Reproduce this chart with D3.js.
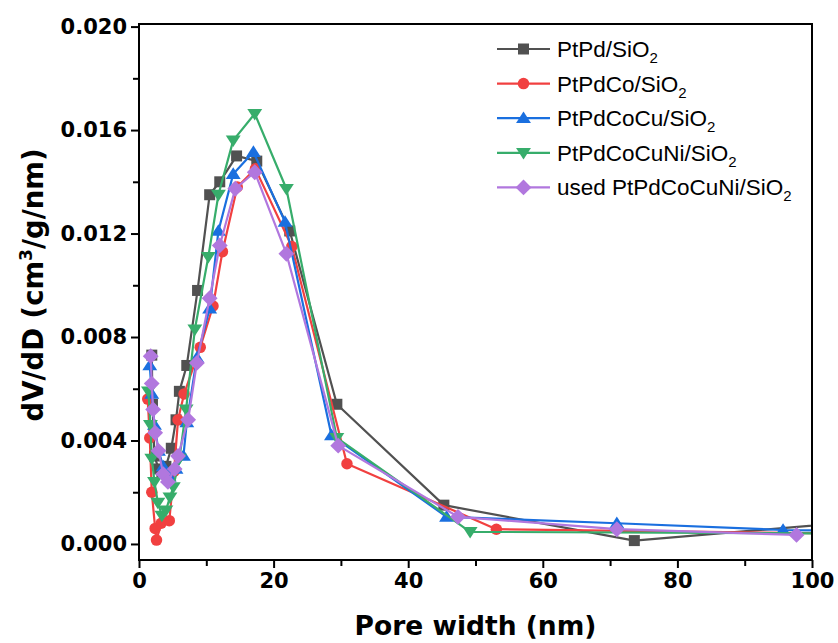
<!DOCTYPE html>
<html><head><meta charset="utf-8">
<script src="https://cdn.jsdelivr.net/npm/d3@7"></script>
<style>body{margin:0;background:#fff}</style>
</head><body>
<svg id="c" width="838" height="643"></svg>
<script>
// ---- data ----
const seriesNames = ["PtPd/SiO", "PtPdCo/SiO", "PtPdCoCu/SiO", "PtPdCoCuNi/SiO", "used PtPdCoCuNi/SiO"];
const xPtPd = [1.9, 2.0, 2.3, 2.9, 3.4, 4.0, 4.8, 5.5, 6.0, 7.1, 8.7, 10.5, 12.0, 14.5, 17.5, 22.4, 29.4, 45.3, 73.6, 110];
const yPtPd = [0.0073, 0.0054, 0.0034, 0.0029, 0.0028, 0.0030, 0.0037, 0.0048, 0.0059, 0.0069, 0.0098, 0.0135, 0.0140, 0.0150, 0.0148, 0.0121, 0.0054, 0.0015, 0.00013, 0.00093];
const xPtPdCo = [1.3, 1.6, 1.9, 2.4, 2.6, 3.3, 4.5, 5.2, 5.8, 6.7, 9.1, 11.0, 12.4, 14.6, 17.3, 22.7, 30.9, 53.1, 105];
const yPtPdCo = [0.0056, 0.0041, 0.0020, 0.0006, 0.00015, 0.0008, 0.0009, 0.0028, 0.0048, 0.0058, 0.0076, 0.0092, 0.0113, 0.0138, 0.0145, 0.0115, 0.0031, 0.00057, 0.0004];
const xPtPdCoCu = [1.6, 1.9, 2.3, 2.9, 3.6, 4.5, 5.5, 6.6, 7.1, 8.6, 10.5, 11.8, 14.0, 17.0, 21.7, 28.6, 45.7, 71.0, 95.7, 105];
const yPtPdCoCu = [0.0069, 0.0058, 0.0046, 0.0036, 0.0030, 0.0026, 0.0029, 0.0034, 0.0047, 0.0072, 0.0091, 0.0121, 0.0143, 0.01515, 0.01245, 0.0042, 0.00105, 0.0008, 0.00054, 0.0005];
const xPtPdCoCuNi = [1.4, 1.7, 1.9, 2.3, 2.8, 3.4, 4.0, 4.6, 5.1, 6.0, 7.0, 8.3, 10.3, 11.8, 14.0, 17.2, 21.9, 29.4, 49.2, 105];
const yPtPdCoCuNi = [0.0059, 0.0046, 0.0033, 0.0024, 0.0016, 0.0011, 0.0013, 0.0018, 0.0022, 0.0033, 0.0052, 0.0083, 0.0111, 0.0135, 0.0156, 0.01663, 0.01373, 0.0041, 0.00047, 0.0004];
const xUsed = [1.74, 1.89, 2.1, 2.4, 2.9, 3.6, 4.3, 5.3, 5.8, 7.3, 8.6, 10.5, 12.0, 14.3, 17.2, 21.9, 29.6, 47.4, 71.0, 97.7];
const yUsed = [0.00726, 0.0062, 0.0052, 0.0043, 0.0036, 0.0027, 0.0024, 0.0029, 0.0034, 0.0048, 0.0070, 0.0095, 0.01154, 0.01373, 0.01437, 0.01122, 0.0038, 0.00105, 0.00057, 0.00035];
const xTicks = [0, 20, 40, 60, 80, 100];
const yTicks = [0.000, 0.004, 0.008, 0.012, 0.016, 0.020];
const colors = ["#515151", "#F14040", "#1A6FDF", "#37AD6B", "#B177DE"];
const shapes = ["square", "circle", "triUp", "triDown", "diamond"];

const xs = [xPtPd, xPtPdCo, xPtPdCoCu, xPtPdCoCuNi, xUsed];
const ys = [yPtPd, yPtPdCo, yPtPdCoCu, yPtPdCoCuNi, yUsed];

// ---- layout ----
const L = 139, R = 812, T = 24, B = 560;
const svg = d3.select("#c");
const x = d3.scaleLinear().domain([0, 100]).range([L, R]);
const y = d3.scaleLinear().domain([-0.00062, 0.0201]).range([B, T]);

svg.append("rect").attr("width", 838).attr("height", 643).attr("fill", "#fff");
svg.append("clipPath").attr("id", "clip").append("rect")
  .attr("x", L).attr("y", T).attr("width", R - L).attr("height", B - T);

function markerPath(shape, s) {
  const p = d3.path();
  if (shape === "square") { p.rect(-s/2, -s/2, s, s); }
  else if (shape === "circle") { p.arc(0, 0, s/2, 0, 2*Math.PI); }
  else if (shape === "triUp") { const h = s*0.9; p.moveTo(0, -h*0.62); p.lineTo(s*0.62, h*0.45); p.lineTo(-s*0.62, h*0.45); p.closePath(); }
  else if (shape === "triDown") { const h = s*0.9; p.moveTo(0, h*0.62); p.lineTo(s*0.62, -h*0.45); p.lineTo(-s*0.62, -h*0.45); p.closePath(); }
  else if (shape === "diamond") { const r = s*0.66; p.moveTo(0, -r); p.lineTo(r, 0); p.lineTo(0, r); p.lineTo(-r, 0); p.closePath(); }
  return p.toString();
}
const msize = [11, 11.5, 12, 12, 12];

const plot = svg.append("g").attr("clip-path", "url(#clip)");
const line = d3.line().x(d => x(d[0])).y(d => y(d[1]));
xs.forEach((xv, i) => {
  const data = xv.map((v, j) => [v, ys[i][j]]);
  const g = plot.append("g");
  g.append("path").datum(data).attr("d", line).attr("fill", "none")
    .attr("stroke", colors[i]).attr("stroke-width", 2.2).attr("stroke-linejoin", "round");
  g.selectAll("path.m").data(data).enter().append("path").attr("class", "m")
    .attr("d", markerPath(shapes[i], msize[i]))
    .attr("transform", d => `translate(${x(d[0])},${y(d[1])})`)
    .attr("fill", colors[i]);
});

// ---- axes ----
const fontTick = "'DejaVu Sans', sans-serif";
const xAxis = d3.axisBottom(x).tickValues(d3.range(0, 101, 10)).tickSize(8)
  .tickFormat(d => xTicks.includes(d) ? d3.format("d")(d) : "");
const yAxis = d3.axisLeft(y).tickValues(d3.range(0, 0.0201, 0.002)).tickSize(8)
  .tickFormat(d => yTicks.some(t => Math.abs(t - d) < 1e-9) ? d3.format(".3f")(d) : "");
const gx = svg.append("g").attr("transform", `translate(0,${B})`).call(xAxis);
const gy = svg.append("g").attr("transform", `translate(${L},0)`).call(yAxis);
[gx, gy].forEach(g => {
  g.select(".domain").remove();
  g.selectAll(".tick line").attr("stroke", "#000").attr("stroke-width", 2);
  g.selectAll(".tick text").attr("font-family", fontTick).attr("font-weight", "bold")
    .attr("font-size", 21).attr("fill", "#000");
});
gx.selectAll(".tick").filter(d => !xTicks.includes(d)).select("line").attr("y2", 6);
gy.selectAll(".tick").filter(d => !yTicks.some(t => Math.abs(t - d) < 1e-9)).select("line").attr("x2", -6);
gx.selectAll(".tick text").attr("y", 13);
gy.selectAll(".tick text").attr("x", -12);

svg.append("rect").attr("x", L).attr("y", T).attr("width", R - L).attr("height", B - T)
  .attr("fill", "none").attr("stroke", "#000").attr("stroke-width", 2);

// ---- titles ----
svg.append("text").attr("x", (L + R) / 2).attr("y", 635).attr("text-anchor", "middle")
  .attr("font-family", fontTick).attr("font-weight", "bold").attr("font-size", 26.5)
  .text("Pore width (nm)");
const yt = svg.append("text").attr("transform", `translate(43,285) rotate(-90)`)
  .attr("text-anchor", "middle").attr("font-family", fontTick).attr("font-weight", "bold").attr("font-size", 27.5);
yt.append("tspan").text("dV/dD (cm");
yt.append("tspan").attr("font-size", 17).attr("dy", -11).text("3");
yt.append("tspan").attr("dy", 11).text("/g/nm)");

// ---- legend ----
const leg = svg.append("g");
seriesNames.forEach((nm, i) => {
  const cy = 49 + i * 34.6;
  leg.append("line").attr("x1", 497).attr("x2", 550).attr("y1", cy).attr("y2", cy)
    .attr("stroke", colors[i]).attr("stroke-width", 2.2);
  leg.append("path").attr("d", markerPath(shapes[i], msize[i]))
    .attr("transform", `translate(523.5,${cy})`).attr("fill", colors[i]);
  const t = leg.append("text").attr("x", 557).attr("y", cy + 8)
    .attr("font-family", "'Liberation Sans', Arial, sans-serif").attr("font-size", 22.5).attr("fill", "#000");
  t.append("tspan").text(nm);
  t.append("tspan").attr("font-size", 15).attr("dy", 6).text("2");
});
</script>
</body></html>
